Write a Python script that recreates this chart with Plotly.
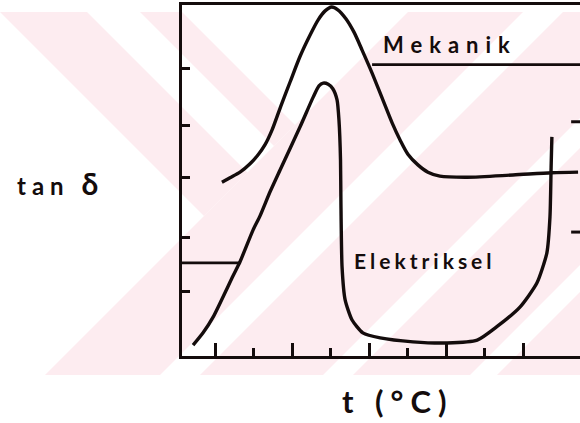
import plotly.graph_objects as go

# --- data (temperature index vs. tan delta, arbitrary units) ---
mek_t = [1.18, 1.39, 1.65, 1.91, 2.12, 2.30, 2.48, 2.71, 2.95, 3.21, 3.47, 3.68,
         3.86, 4.03, 4.19, 4.40, 4.61, 4.82, 5.08, 5.36, 5.60, 5.81, 6.01, 6.27,
         6.53, 6.84, 7.55, 8.74, 9.75, 10.43]
mek_tan = [2.96, 3.04, 3.14, 3.29, 3.45, 3.63, 3.89, 4.32, 4.75, 5.21, 5.59, 5.86,
           6.02, 6.09, 6.04, 5.88, 5.64, 5.32, 4.91, 4.43, 4.02, 3.71, 3.46, 3.27,
           3.14, 3.07, 3.05, 3.09, 3.13, 3.14]

ele_t = [0.43, 0.69, 0.95, 1.47, 1.65, 1.99, 2.17, 2.43, 2.69, 3.21, 3.55, 3.70,
         3.81, 3.94, 4.06, 4.17, 4.22, 4.26, 4.27, 4.30, 4.38, 4.56, 4.84, 5.29,
         6.14, 7.03, 7.81, 8.32, 8.92, 9.36, 9.62, 9.70, 9.73, 9.75]
ele_tan = [0.05, 0.27, 0.55, 1.29, 1.54, 2.11, 2.36, 2.79, 3.18, 3.95, 4.48, 4.68,
           4.73, 4.71, 4.63, 4.43, 4.07, 3.36, 2.64, 1.45, 0.86, 0.50, 0.27, 0.18,
           0.11, 0.09, 0.14, 0.38, 0.73, 1.16, 1.70, 2.34, 3.23, 3.77]

# reference levels
ele_level_t = [0.143, 1.64]
ele_level = 1.52
mek_level_t = [5.08, 10.48]
mek_level = 5.06

# right-hand scale marks
right_tick_t = [10.25, 10.48]
right_tick_vals = [4.04, 2.07]

x_major = [1, 3, 5, 7, 9]
x_minor = [2, 4, 6, 8]
y_ticks = [1.0, 1.98, 3.04, 3.98, 5.0]

X_RANGE = [0.143, 10.48]
Y_RANGE = [-0.143, 6.125]

W, H = 580, 423
INK = "#140c0c"
PINK = "rgb(253,236,240)"

fig = go.Figure()

lw = 3.4
fig.add_trace(go.Scatter(x=mek_t, y=mek_tan, mode="lines",
                         line=dict(color=INK, width=lw, shape="spline", smoothing=0.8)))
fig.add_trace(go.Scatter(x=ele_t, y=ele_tan, mode="lines",
                         line=dict(color=INK, width=lw, shape="spline", smoothing=0.6)))
fig.add_trace(go.Scatter(x=ele_level_t, y=[ele_level] * 2, mode="lines",
                         line=dict(color=INK, width=2.6)))
fig.add_trace(go.Scatter(x=mek_level_t, y=[mek_level] * 2, mode="lines",
                         line=dict(color=INK, width=2.6)))
for v in right_tick_vals:
    fig.add_trace(go.Scatter(x=right_tick_t, y=[v, v], mode="lines",
                             line=dict(color=INK, width=3)))


# --- background stripe pattern (pixel space) ---
def clip(poly, a, b, c):
    """Keep the part of poly with a*x + b*y <= c."""
    out = []
    n = len(poly)
    for i in range(n):
        p, q = poly[i], poly[(i + 1) % n]
        fp = a * p[0] + b * p[1] - c
        fq = a * q[0] + b * q[1] - c
        if fp <= 0:
            out.append(p)
        if fp * fq < 0:
            t = fp / (fp - fq)
            out.append((p[0] + t * (q[0] - p[0]), p[1] + t * (q[1] - p[1])))
    return out


band_top, band_bot = 12, 375
rect = [(0, band_top), (W, band_top), (W, band_bot), (0, band_bot)]
polys = []
# rising stripes: lo <= x + y <= hi
for lo, hi in [(420, 535), (575, 698), (728, 845), (872, 1000)]:
    p = clip(rect, 1, 1, hi)
    p = clip(p, -1, -1, -lo)
    polys.append(p)
# falling stripes in the upper-left corner: x + y <= 420, lo <= y - x <= hi
for lo, hi in [(-75, 12), (-170, -128)]:
    p = clip(rect, 1, 1, 420)
    p = clip(p, -1, 1, hi)
    p = clip(p, 1, -1, -lo)
    polys.append(p)

shapes = []
for p in polys:
    if len(p) < 3:
        continue
    path = "M " + " L ".join(f"{x / W:.5f},{1 - y / H:.5f}" for x, y in p) + " Z"
    shapes.append(dict(type="path", path=path, xref="paper", yref="paper",
                       fillcolor=PINK, line=dict(width=0), layer="below"))


def px(x, y):
    return x / W, 1 - y / H


font_name = "Lato"
ann = []
for text, (x, y), size in [
    ("<span style='letter-spacing:6px'><b>tan </b><b style='font-size:30px'>δ</b></span>", (60, 183), 24),
    ("<span style='letter-spacing:7px'><b>Mekanik</b></span>", (450, 44), 22),
    ("<span style='letter-spacing:4px'><b>Elektriksel</b></span>", (425, 260), 21),
    ("<span style='letter-spacing:7px'><b>t (°C)</b></span>", (397, 401), 31),
]:
    ax, ay = px(x, y)
    ann.append(dict(text=text, x=ax, y=ay, xref="paper", yref="paper",
                    showarrow=False, xanchor="center", yanchor="middle",
                    font=dict(family=font_name, size=size, color=INK)))

fig.update_layout(
    width=W, height=H, margin=dict(l=0, r=0, t=0, b=0),
    paper_bgcolor="white", plot_bgcolor="rgba(0,0,0,0)",
    showlegend=False, shapes=shapes, annotations=ann,
    xaxis=dict(domain=[182 / W, 1], range=X_RANGE, showgrid=False, zeroline=False,
               showline=True, linecolor=INK, linewidth=3, mirror=True,
               ticks="inside", tickvals=x_major, ticklen=13, tickwidth=2.5,
               tickcolor=INK, showticklabels=False,
               minor=dict(tickvals=x_minor, ticks="inside", ticklen=8,
                          tickwidth=2.5, tickcolor=INK, showgrid=False)),
    yaxis=dict(domain=[1 - 356 / H, 1 - 5 / H], range=Y_RANGE, showgrid=False,
               zeroline=False, showline=True, linecolor=INK, linewidth=3,
               ticks="inside", tickvals=y_ticks, ticklen=8, tickwidth=3,
               tickcolor=INK, showticklabels=False),
)

fig.write_html("out.html")
